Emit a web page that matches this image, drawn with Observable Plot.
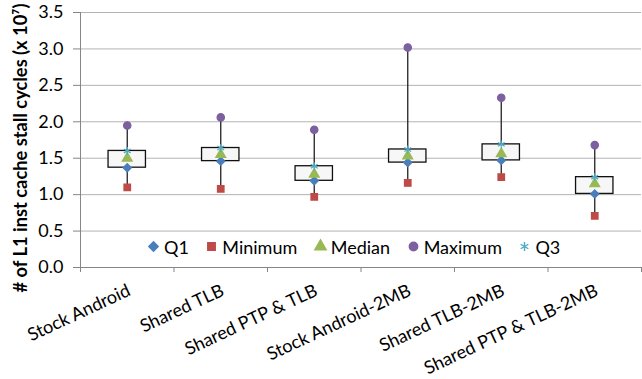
<!DOCTYPE html>
<html><head><meta charset="utf-8">
<script src="https://cdn.jsdelivr.net/npm/d3@7"></script>
<script src="https://cdn.jsdelivr.net/npm/@observablehq/plot@0.6"></script>
<style>
body{margin:0;background:#fff}
#wrap{position:relative;width:642px;height:379px;overflow:hidden}
#legend{position:absolute;left:146px;top:230px}
.leg-swatch{margin-right:15.5px !important}
.leg-swatch > svg{margin-right:3px !important}
</style></head><body><div id="wrap"></div>
<script>
const categories = ["Stock Android","Shared TLB","Shared PTP & TLB","Stock Android-2MB","Shared TLB-2MB","Shared PTP & TLB-2MB"];
const q1Values      = [1.37, 1.46, 1.19, 1.44, 1.47, 1.01];
const minimumValues = [1.10, 1.08, 0.97, 1.16, 1.24, 0.71];
const medianValues  = [1.50, 1.55, 1.28, 1.53, 1.56, 1.15];
const maximumValues = [1.95, 2.06, 1.89, 3.02, 2.33, 1.68];
const q3Values      = [1.60, 1.64, 1.39, 1.62, 1.69, 1.24];
const seriesNames   = ["Q1", "Minimum", "Median", "Maximum", "Q3"];
const seriesColors  = ["#4a7ebb", "#be4b48", "#98b954", "#7d60a0", "#4bacc6"];
const seriesSymbols = ["diamond2", "square", "triangle", "circle", "asterisk"];
const yTicks = [0, 0.5, 1, 1.5, 2, 2.5, 3, 3.5];
const yLabel = "# of L1 inst cache stall cycles (x 10\u2077)";

const seriesValues = [q1Values, minimumValues, medianValues, maximumValues, q3Values];
const rows = categories.map((c, i) => ({i, cat: c, q1: q1Values[i], min: minimumValues[i], med: medianValues[i], max: maximumValues[i], q3: q3Values[i]}));
const points = seriesNames.flatMap((s, k) => categories.map((c, i) => ({i, series: s, value: seriesValues[k][i]})));

const chart = Plot.plot({
  width: 642, height: 379,
  marginLeft: 80, marginRight: 1, marginTop: 12, marginBottom: 112,
  style: {fontFamily: "Lato, sans-serif", fontSize: "18px", color: "#000", background: "#fff"},
  x: {domain: [0, categories.length]},
  y: {domain: [0, 3.5]},
  symbol: {domain: seriesNames, range: seriesSymbols},
  color: {domain: seriesNames, range: seriesColors},
  marks: [
    Plot.gridY(yTicks, {stroke: "#b3b3b3", strokeOpacity: 1, strokeWidth: 1}),
    Plot.ruleX([0], {stroke: "#868686"}),
    Plot.ruleY([0], {stroke: "#868686"}),
    Plot.axisY({ticks: yTicks, tickFormat: d => d.toFixed(1), tickSize: 7, tickPadding: 10, stroke: "#868686",
      label: null, fontSize: 18}),
    Plot.text([yLabel], {frameAnchor: "left", rotate: -90, dx: -67, dy: 8, lineAnchor: "top", textAnchor: "middle",
      fontSize: 18.3, fontWeight: "bold", fill: "#000"}),
    Plot.axisX({ticks: d3.range(categories.length + 1), tickSize: 5, tickFormat: () => "", stroke: "#868686", label: null}),
    Plot.axisX({ticks: categories.map((c, i) => i + 0.5), tickFormat: v => categories[Math.round(v - 0.5)],
      tickSize: 0, tickRotate: -25, tickPadding: 22, dx: 2, label: null, fontSize: 18}),
    Plot.ruleX(rows, {x: d => d.i + 0.5, y1: "min", y2: "max", stroke: "#222", strokeWidth: 1.3}),
    Plot.rect(rows, {x1: d => d.i + 0.3, x2: d => d.i + 0.7, y1: "q1", y2: "q3", fill: "#f7f7f7", stroke: "#111", strokeWidth: 1.3}),
    Plot.dot(points, {x: d => d.i + 0.5, y: "value", symbol: "series", fill: "series", stroke: "series", r: 3.7, strokeWidth: 1.2})
  ]
});
const wrap = document.getElementById("wrap");
wrap.appendChild(chart);
const leg = chart.legend("symbol", {className: "leg", style: {fontFamily: "Lato, sans-serif", fontSize: "18px", color: "#000"}});
const holder = document.createElement("div");
holder.id = "legend";
holder.appendChild(leg);
wrap.appendChild(holder);
</script>
</body></html>
